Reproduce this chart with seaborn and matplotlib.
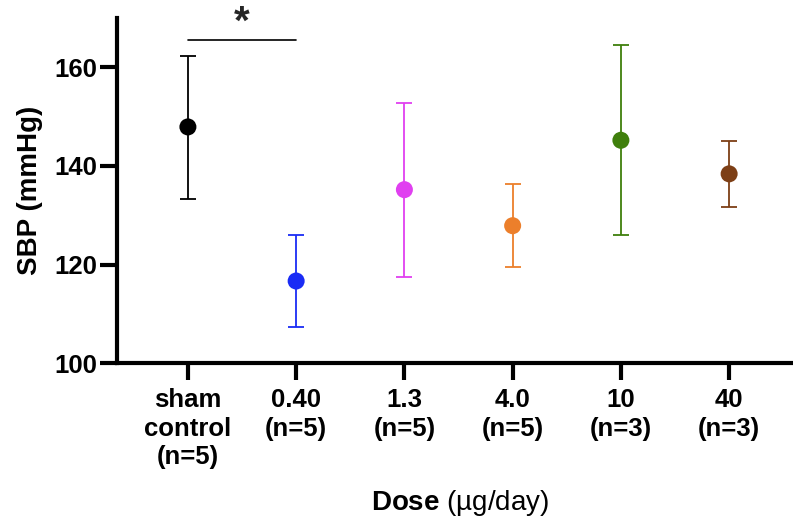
import matplotlib
matplotlib.use('Agg')
import matplotlib.pyplot as plt
import seaborn as sns
import pandas as pd

# Data
doses = ['sham\ncontrol\n(n=5)', '0.40\n(n=5)', '1.3\n(n=5)', '4.0\n(n=5)', '10\n(n=3)', '40\n(n=3)']
sbp_mean = [147.9, 116.7, 135.2, 127.9, 145.2, 138.4]
sbp_upper = [162.2, 126.0, 152.8, 136.3, 164.4, 145.1]
sbp_lower = [133.4, 107.4, 117.5, 119.6, 126.0, 131.7]
colors = ['#000000', '#1a2cf5', '#e040f0', '#ec7f2b', '#3f7f0c', '#7d3f16']
yticks = [100, 120, 140, 160]
sig_pair = (0, 1)
sig_level = 165.5

sns.set_theme(style='ticks')
plt.rcParams['font.family'] = ['Liberation Sans', 'DejaVu Sans']
plt.rcParams['mathtext.fontset'] = 'custom'
plt.rcParams['mathtext.rm'] = 'Liberation Sans'
plt.rcParams['mathtext.bf'] = 'Liberation Sans:bold'

df = pd.DataFrame({'Dose': doses, 'SBP': sbp_mean, 'lo': sbp_lower, 'hi': sbp_upper})

fig = plt.figure(figsize=(7.93, 5.23), dpi=100)
ax = fig.add_axes([0.147, 0.305, 0.853, 0.661])

sns.scatterplot(data=df, x='Dose', y='SBP', hue='Dose', palette=colors,
                s=150, linewidth=0, legend=False, zorder=3, ax=ax)

for i, row in df.iterrows():
    ax.errorbar(i, row['SBP'], yerr=[[row['SBP'] - row['lo']], [row['hi'] - row['SBP']]],
                fmt='none', ecolor=colors[i], elinewidth=1.3, capsize=5.5, capthick=1.3, zorder=2)

# significance bar
ax.plot(list(sig_pair), [sig_level, sig_level], color='black', lw=1.2, clip_on=False)
ax.text(sum(sig_pair) / 2, sig_level + 3.5, '*', ha='center', va='center',
        fontsize=29, fontweight='bold', clip_on=False)

ax.set_xlim(-0.659, 5.59)
ax.set_ylim(100, 170)
ax.set_yticks(yticks)

sns.despine(ax=ax)
for side in ['left', 'bottom']:
    ax.spines[side].set_linewidth(3)
    ax.spines[side].set_color('black')

ax.tick_params(axis='both', width=3, length=12, labelsize=18.5, color='black', labelcolor='black')
ax.tick_params(axis='y', pad=2)
ax.tick_params(axis='x', pad=6)
for lbl in ax.get_xticklabels():
    lbl.set_fontweight('bold')
    lbl.set_linespacing(1.23)
for lbl in ax.get_yticklabels():
    lbl.set_fontweight('bold')

ax.set_ylabel('SBP (mmHg)', fontsize=20, fontweight='bold', color='black')
ax.yaxis.set_label_coords(-0.109, 0.5)
ax.set_xlabel(r'$\mathbf{Dose}$ (µg/day)', fontsize=20, color='black')
ax.xaxis.label.set_va('center')
ax.xaxis.set_label_coords(0.508, -0.405)

fig.savefig('out.png', dpi=100)
